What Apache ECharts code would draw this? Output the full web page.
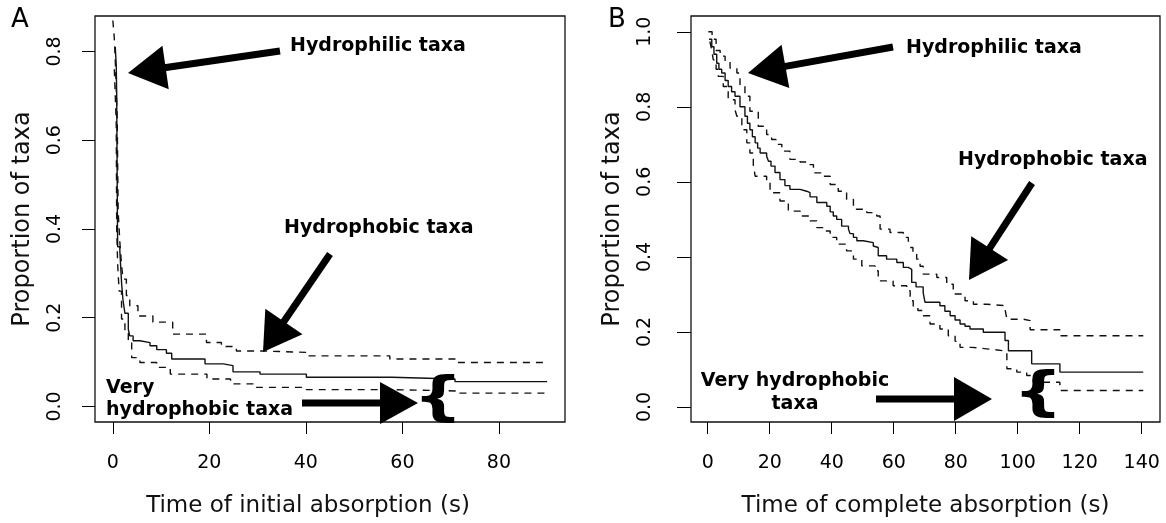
<!DOCTYPE html>
<html>
<head>
<meta charset="utf-8">
<script src="https://cdn.jsdelivr.net/npm/echarts@6/dist/echarts.min.js"></script>
<style>
  html, body { margin: 0; padding: 0; background: #fff; }
  #chart { width: 1166px; height: 523px; }
</style>
</head>
<body>
<div id="chart"></div>
<script>
/* ===== data: panel A, time of initial absorption ===== */
const aTicksX = [0, 20, 40, 60, 80];
const aTicksY = [0, 0.2, 0.4, 0.6, 0.8];
const aSolid = [[0.5, 0.81], [0.7, 0.77], [0.8, 0.70], [0.85, 0.60], [0.9, 0.50], [0.95, 0.42], [1.0, 0.36],
    [1.45, 0.35], [1.8, 0.28], [2.1, 0.24], [2.5, 0.21], [3.2, 0.174], [3.5, 0.159], [4.2, 0.148], [5.6, 0.144],
    [7.7, 0.137], [9.1, 0.128], [11.1, 0.12], [12.2, 0.107], [19.1, 0.096], [22.9, 0.092], [24.9, 0.078],
    [30.5, 0.073], [40.1, 0.066], [57.8, 0.062], [70.9, 0.056], [90, 0.056]];
const aUpper = [[0, 0.87], [0.3, 0.83], [0.5, 0.78], [0.7, 0.72], [0.9, 0.65], [1.1, 0.44], [1.45, 0.37],
    [1.8, 0.32], [2.1, 0.287], [2.8, 0.25], [3.5, 0.227], [5.2, 0.204], [8.3, 0.19], [12.4, 0.163], [19.4, 0.144],
    [22.5, 0.135], [25.6, 0.125], [30.8, 0.122], [40.1, 0.114], [57.4, 0.107], [71.2, 0.099], [90, 0.099]];
const aLower = [[0.3, 0.76], [0.5, 0.70], [0.7, 0.64], [0.8, 0.40], [1.0, 0.32], [1.3, 0.26], [1.8, 0.197],
    [2.5, 0.165], [3.2, 0.144], [3.9, 0.11], [5.6, 0.099], [9.1, 0.088], [11.9, 0.073], [19.5, 0.062],
    [24.4, 0.051], [29.8, 0.043], [40.1, 0.038], [57.8, 0.035], [71, 0.03], [90, 0.03]];

/* ===== data: panel B, time of complete absorption ===== */
const bTicksX = [0, 20, 40, 60, 80, 100, 120, 140];
const bTicksY = [0, 0.2, 0.4, 0.6, 0.8, 1.0];
const bSolid = [[0.4, 0.98], [1.3, 0.96], [2.0, 0.94], [2.9, 0.916], [3.6, 0.90], [4.5, 0.89], [5.6, 0.87],
    [6.6, 0.854], [7.7, 0.84], [8.8, 0.828], [10.4, 0.80], [12.0, 0.775], [12.8, 0.756], [13.6, 0.739],
    [14.4, 0.72], [15.3, 0.704], [16.1, 0.69], [16.9, 0.677], [19.0, 0.668], [19.6, 0.655], [20.4, 0.642],
    [21.7, 0.625], [23.3, 0.606], [24.9, 0.59], [26.5, 0.58], [29.8, 0.575], [31.9, 0.571], [33.0, 0.56],
    [35.2, 0.545], [38.4, 0.535], [39.5, 0.52], [40.5, 0.509], [41.6, 0.50], [43.2, 0.482], [45.4, 0.474],
    [45.9, 0.462], [47.0, 0.452], [48.1, 0.443], [50.2, 0.438], [53.4, 0.429], [54.0, 0.425], [55.0, 0.403],
    [57.7, 0.394], [61.0, 0.385], [63.1, 0.372], [64.7, 0.367], [65.8, 0.332], [67.2, 0.32], [69.5, 0.305],
    [70.1, 0.279], [74.9, 0.27], [76.5, 0.255], [78.2, 0.243], [79.8, 0.232], [81.4, 0.221], [83.0, 0.215],
    [84.6, 0.208], [88.9, 0.199], [95.9, 0.177], [97.0, 0.15], [104.5, 0.115], [113.6, 0.093], [140.5, 0.093]];
const bUpper = [[0.2, 1.0], [1.4, 0.98], [2.7, 0.95], [4.0, 0.935], [5.6, 0.92], [7.2, 0.903], [9.4, 0.89],
    [10.4, 0.859], [12.0, 0.828], [13.6, 0.788], [16.3, 0.748], [19.0, 0.726], [20.6, 0.713], [22.0, 0.70],
    [23.9, 0.682], [26.5, 0.66], [29.8, 0.653], [31.9, 0.646], [34.1, 0.624], [37.3, 0.615], [39.5, 0.593],
    [42.1, 0.575], [44.8, 0.553], [47.0, 0.527], [51.3, 0.518], [54.5, 0.509], [55.6, 0.474], [58.8, 0.465],
    [63.1, 0.452], [64.7, 0.443], [65.3, 0.425], [66.2, 0.41], [67.4, 0.394], [68.5, 0.375], [69.5, 0.354],
    [73.9, 0.345], [77.1, 0.327], [79.2, 0.301], [83.0, 0.283], [85.7, 0.274], [90.0, 0.27], [95.9, 0.261],
    [96.5, 0.234], [101.8, 0.23], [104.0, 0.206], [113.6, 0.19], [140.5, 0.19]];
const bLower = [[0.7, 0.974], [1.3, 0.95], [1.8, 0.925], [2.7, 0.90], [3.4, 0.881], [5.0, 0.854], [6.6, 0.819],
    [8.8, 0.792], [9.4, 0.775], [11.0, 0.739], [12.6, 0.704], [13.6, 0.677], [14.7, 0.646], [15.3, 0.615],
    [19.0, 0.598], [20.1, 0.571], [23.3, 0.549], [26.0, 0.522], [29.8, 0.509], [33.0, 0.496], [35.2, 0.478],
    [37.8, 0.469], [39.5, 0.452], [41.6, 0.434], [44.8, 0.416], [47.0, 0.394], [49.7, 0.376], [54.0, 0.363],
    [55.0, 0.336], [59.8, 0.323], [64.2, 0.31], [65.3, 0.283], [66.3, 0.266], [67.8, 0.257], [69.5, 0.243],
    [71.7, 0.221], [74.9, 0.208], [77.6, 0.19], [79.8, 0.175], [81.4, 0.159], [85.2, 0.155], [90.0, 0.15],
    [95.4, 0.146], [96.5, 0.102], [99.7, 0.093], [102.9, 0.084], [105.0, 0.066], [113.6, 0.044], [140.5, 0.044]];

const FONT = '"DejaVu Sans", sans-serif';
const chart = echarts.init(document.getElementById('chart'));

function xAxis(idx, min, max, ticks, name, pad) {
    return {
        type: 'value', gridIndex: idx, min, max,
        axisLine: { show: false, onZero: false }, splitLine: { show: false },
        axisTick: { show: true, inside: false, length: 12, customValues: ticks, lineStyle: { color: '#000', width: 1 } },
        axisLabel: { customValues: ticks, margin: 32, color: '#000', fontSize: 19, fontFamily: FONT },
        name, nameLocation: 'middle', nameGap: 73,
        nameTextStyle: { color: '#111', fontSize: 23, fontFamily: FONT, padding: pad }
    };
}

function yAxis(idx, min, max, ticks, tickLen, labelMargin, nameGap) {
    return {
        type: 'value', gridIndex: idx, min, max,
        axisLine: { show: false, onZero: false }, splitLine: { show: false },
        axisTick: { show: true, inside: false, length: tickLen, customValues: ticks, lineStyle: { color: '#000', width: 1 } },
        axisLabel: { customValues: ticks, rotate: 90, margin: labelMargin, color: '#000', fontSize: 19,
                     fontFamily: FONT, formatter: v => v.toFixed(1) },
        name: 'Proportion of taxa', nameLocation: 'middle', nameGap, nameRotate: 90,
        nameTextStyle: { color: '#111', fontSize: 24, fontFamily: FONT }
    };
}

function km(data, idx, dashed) {
    return {
        type: 'line', step: 'end', data, xAxisIndex: idx, yAxisIndex: idx,
        showSymbol: false, silent: true,
        lineStyle: { color: '#111', width: 1.4, type: dashed ? [7, 6] : 'solid' }
    };
}

/* arrows: thick shaft + triangle head, pixel positions */
function arrow(tail, tip, headLen, headW) {
    const dx = tip[0] - tail[0], dy = tip[1] - tail[1];
    const len = Math.hypot(dx, dy);
    const ux = dx / len, uy = dy / len;
    const bx = tip[0] - ux * headLen, by = tip[1] - uy * headLen;
    const nx = -uy * headW / 2, ny = ux * headW / 2;
    return [
        { type: 'line', z: 100, shape: { x1: tail[0], y1: tail[1], x2: bx + ux * 3, y2: by + uy * 3 },
          style: { stroke: '#000', lineWidth: 7 } },
        { type: 'polygon', z: 100, shape: { points: [tip, [bx + nx, by + ny], [bx - nx, by - ny]] },
          style: { fill: '#000' } }
    ];
}

function label(x, y, text, align, lineHeight) {
    return { type: 'text', z: 100, x, y,
             style: { text, fill: '#000', font: 'bold 19px ' + FONT, align, verticalAlign: 'middle', lineHeight } };
}

function brace(x, y) {
    return { type: 'text', z: 100, x, y, scaleX: 1.3,
             style: { text: '{', fill: '#000', font: 'bold 54px ' + FONT, align: 'center', verticalAlign: 'middle' } };
}

const graphics = [
    { type: 'text', x: 20, y: 20, style: { text: 'A', fill: '#000', font: '26px ' + FONT, align: 'center', verticalAlign: 'middle' } },
    { type: 'text', x: 617, y: 20, style: { text: 'B', fill: '#000', font: '26px ' + FONT, align: 'center', verticalAlign: 'middle' } },
    // panel A
    label(290, 46, 'Hydrophilic taxa', 'left'),
    ...arrow([280, 51], [128, 73], 38, 44),
    label(284, 228, 'Hydrophobic taxa', 'left'),
    ...arrow([330, 254], [263, 352], 37, 45),
    label(106, 399, 'Very\nhydrophobic taxa', 'left', 22),
    ...arrow([302, 403], [418, 403], 38, 42),
    brace(438, 401),
    // panel B
    label(906, 48, 'Hydrophilic taxa', 'left'),
    ...arrow([893, 47], [748, 73], 38, 44),
    label(958, 160, 'Hydrophobic taxa', 'left'),
    ...arrow([1032, 183], [969, 280], 38, 44),
    label(795, 393, 'Very hydrophobic\ntaxa', 'center', 23),
    ...arrow([876, 399], [992, 399], 38, 44),
    brace(1038, 396)
];

chart.setOption({
    animation: false,
    backgroundColor: '#fff',
    grid: [
        { left: 95, top: 16, width: 470, height: 407, show: true, borderColor: '#111', borderWidth: 1.3 },
        { left: 691, top: 16, width: 469, height: 407, show: true, borderColor: '#111', borderWidth: 1.3 }
    ],
    xAxis: [
        xAxis(0, -3.7, 93.7, aTicksX, 'Time of initial absorption (s)', [0, 44, 0, 0]),
        xAxis(1, -5.4, 145.9, bTicksX, 'Time of complete absorption (s)', [0, 0, 0, 0])
    ],
    yAxis: [
        yAxis(0, -0.035, 0.88, aTicksY, 13, 30, 60),
        yAxis(1, -0.04, 1.042, bTicksY, 14, 36, 66)
    ],
    series: [
        km(aSolid, 0, false), km(aUpper, 0, true), km(aLower, 0, true),
        km(bSolid, 1, false), km(bUpper, 1, true), km(bLower, 1, true)
    ],
    graphic: graphics
});

window.onresize = () => chart.resize();
</script>
</body>
</html>
